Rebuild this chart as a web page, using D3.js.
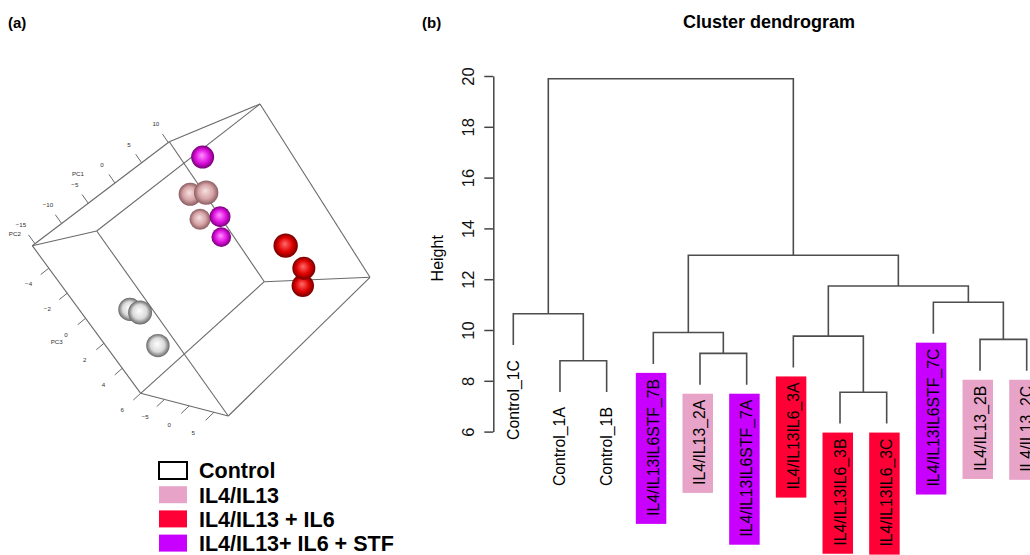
<!DOCTYPE html>
<html>
<head>
<meta charset="utf-8">
<script src="https://cdn.jsdelivr.net/npm/d3@7"></script>
<style>
body { margin: 0; background: #fff; }
text { font-family: "Liberation Sans", Arial, sans-serif; }
</style>
</head>
<body>
<svg id="fig" width="1030" height="555"></svg>
<script>
// treatment groups
var groups = ["Control", "IL4/IL13", "IL4/IL13 + IL6", "IL4/IL13+ IL6 + STF"];
var groupFill = ["#ffffff", "#e8a4c8", "#ff0036", "#c800ff"];

// PCA scores (panel a)
var pcGroup = [0, 0, 0, 1, 1, 1, 2, 2, 2, 3, 3, 3];
var pc1 = [-14.7, -14.7, -14.7, 1.2, 0.9, 3.7, 5.8, 8.6, 8.1, 5.4, 6.3, 7.2];
var pc2 = [0.7, 2.6, 1.2, 0.3, 3.8, -4.7, 3.8, 0.3, -1.1, 0.3, -4.7, -8.0];
var pc3 = [-0.5, -0.3, 2.0, -3.4, -3.3, -1.1, 2.1, 4.6, 5.7, -4.7, -0.4, 1.3];
var pc1Ticks = [-15, -10, -5, 0, 5, 10];
var pc2Ticks = [-5, 0, 5];
var pc3Ticks = [-4, -2, 0, 2, 4, 6];

// hierarchical clustering (panel b), leaves in plotted order
var leafLabels = ["Control_1C", "Control_1A", "Control_1B", "IL4/IL13IL6STF_7B", "IL4/IL13_2A",
  "IL4/IL13IL6STF_7A", "IL4/IL13IL6_3A", "IL4/IL13IL6_3B", "IL4/IL13IL6_3C", "IL4/IL13IL6STF_7C",
  "IL4/IL13_2B", "IL4/IL13_2C"];
var leafGroup = [0, 0, 0, 3, 1, 3, 2, 2, 2, 3, 1, 1];
// merge steps like hclust: negative = leaf, positive = earlier merge
var mergeA = [-2, -1, -5, -4, -8, -7, -11, -10, 6, 4, 2];
var mergeB = [-3, 1, -6, 3, -9, 5, -12, 7, 8, 9, 10];
var mergeHeight = [8.79, 10.64, 9.08, 9.90, 7.55, 9.76, 9.63, 11.09, 11.73, 12.94, 19.89];
var heightTicks = [6, 8, 10, 12, 14, 16, 18, 20];

var svg = d3.select("#fig");
svg.append("rect").attr("width", 1030).attr("height", 555).attr("fill", "#fff");

// ---------- panel a : 3d scatter ----------
var sx = d3.scaleLinear().domain([-15.5, 10.2]).range([0, 1]);
var sy = d3.scaleLinear().domain([-9.8, 7.9]).range([0, 1]);
var sz = d3.scaleLinear().domain([-5.8, 6.0]).range([0, 1]);
var rad = d3.scaleLinear().domain(sy.domain()).range([9.5, 13]);

// screen position of the box corners (a,b,c)
var corner = {
  "000": [32.3, 245.7], "100": [169.3, 141.7], "010": [96.7, 231.0], "110": [260.0, 104.0],
  "001": [140.7, 393.3], "101": [264.3, 281.7], "011": [228.3, 416.0], "111": [370.0, 277.3]
};

function lerp(p, q, t){ return [p[0] + (q[0] - p[0]) * t, p[1] + (q[1] - p[1]) * t]; }

function proj(a, b, c){
  var p00 = lerp(corner["000"], corner["100"], a);
  var p10 = lerp(corner["010"], corner["110"], a);
  var p01 = lerp(corner["001"], corner["101"], a);
  var p11 = lerp(corner["011"], corner["111"], a);
  return lerp(lerp(p00, p10, b), lerp(p01, p11, b), c);
}

var defs = svg.append("defs");
var shade = [
  ["#ffffff", "#dadada", "#666666"],
  ["#f6e2e2", "#d6a3a6", "#8a5c60"],
  ["#ff6a6a", "#e00000", "#740000"],
  ["#ff90ff", "#e010e0", "#760076"]
];
shade.forEach(function(s, i){
  var g = defs.append("radialGradient").attr("id", "ball" + i)
    .attr("cx", "50%").attr("cy", "50%").attr("r", "50%")
    .attr("fx", "46%").attr("fy", "42%");
  g.append("stop").attr("offset", "0%").attr("stop-color", s[0]);
  g.append("stop").attr("offset", "60%").attr("stop-color", s[1]);
  g.append("stop").attr("offset", "100%").attr("stop-color", s[2]);
});

var pa = svg.append("g");

var edges = [];
["000", "010", "001", "011"].forEach(function(k){ edges.push([k, "1" + k.slice(1)]); });
["000", "100", "001", "101"].forEach(function(k){ edges.push([k, k[0] + "1" + k[2]]); });
["000", "100", "010", "110"].forEach(function(k){ edges.push([k, k.slice(0, 2) + "1"]); });

pa.selectAll("line.edge").data(edges).enter().append("line")
  .attr("class", "edge")
  .attr("x1", function(d){ return corner[d[0]][0]; })
  .attr("y1", function(d){ return corner[d[0]][1]; })
  .attr("x2", function(d){ return corner[d[1]][0]; })
  .attr("y2", function(d){ return corner[d[1]][1]; })
  .attr("stroke", "#6a6a6a").attr("stroke-width", 1.1);

function tickSet(values, pos, tickEnd, labelPos){
  var g = pa.append("g");
  values.forEach(function(v){
    var p0 = proj.apply(null, pos(v)), p1 = proj.apply(null, tickEnd(v)), pl = proj.apply(null, labelPos(v));
    g.append("line").attr("x1", p0[0]).attr("y1", p0[1]).attr("x2", p1[0]).attr("y2", p1[1])
      .attr("stroke", "#6a6a6a").attr("stroke-width", 1);
    g.append("text").attr("x", pl[0]).attr("y", pl[1]).attr("dy", "0.35em")
      .attr("text-anchor", "middle").attr("font-size", 6.2).attr("fill", "#333")
      .text(String(v).replace("-", "\u2212"));
  });
}
tickSet(pc1Ticks, function(v){ return [sx(v), 0, 0]; }, function(v){ return [sx(v), 0, -0.06]; },
  function(v){ return [sx(v), 0, -0.13]; });
tickSet(pc3Ticks, function(v){ return [0, 0, sz(v)]; }, function(v){ return [-0.06, 0, sz(v)]; },
  function(v){ return [-0.15, 0, sz(v)]; });
tickSet(pc2Ticks, function(v){ return [0, sy(v), 1]; }, function(v){ return [-0.06, sy(v), 1]; },
  function(v){ return [-0.15, sy(v), 1]; });

[["PC1", [0.46, 0, -0.17]], ["PC2", [-0.04, 0, -0.11]], ["PC3", [-0.22, 0, 0.49]]].forEach(function(d){
  var p = proj.apply(null, d[1]);
  pa.append("text").attr("x", p[0]).attr("y", p[1]).attr("dy", "0.35em")
    .attr("text-anchor", "middle").attr("font-size", 6.2).attr("fill", "#333").text(d[0]);
});

var pts = pc1.map(function(v, i){
  var p = proj(sx(v), sy(pc2[i]), sz(pc3[i]));
  return { x: p[0], y: p[1], r: rad(pc2[i]), depth: pc2[i], g: pcGroup[i] };
}).sort(function(a, b){ return a.depth - b.depth; });

pa.selectAll("circle.ball").data(pts).enter().append("circle")
  .attr("class", "ball")
  .attr("cx", function(d){ return d.x; })
  .attr("cy", function(d){ return d.y; })
  .attr("r", function(d){ return d.r; })
  .attr("fill", function(d){ return "url(#ball" + d.g + ")"; });

// legend
var row = d3.scaleBand().domain(groups).range([462, 462 + 24.2 * 4]);
var lg = svg.append("g").selectAll("g").data(groups).enter().append("g")
  .attr("transform", function(d){ return "translate(159," + row(d) + ")"; });
lg.append("rect").attr("width", 28).attr("height", 17)
  .attr("fill", function(d, i){ return groupFill[i]; })
  .attr("stroke", function(d, i){ return i === 0 ? "#000" : "none"; })
  .attr("stroke-width", 2);
lg.append("text").attr("x", 40).attr("y", 16.3)
  .attr("font-size", 21.5).attr("font-weight", "bold").text(function(d){ return d; });

svg.append("text").attr("x", 8).attr("y", 28).attr("font-size", 15).attr("font-weight", "bold").text("(a)");

// ---------- panel b : dendrogram ----------
svg.append("text").attr("x", 422).attr("y", 28).attr("font-size", 15).attr("font-weight", "bold").text("(b)");
svg.append("text").attr("x", 769).attr("y", 27.5).attr("text-anchor", "middle")
  .attr("font-size", 18).attr("font-weight", "bold").text("Cluster dendrogram");

var x = d3.scaleLinear().domain([1, leafLabels.length]).range([513.3, 1026.7]);
var y = d3.scaleLinear().domain([6, 20]).range([431.6, 76]);
var hang = 0.1 * (d3.max(mergeHeight) - d3.min(mergeHeight));

var yAxis = svg.append("g").attr("transform", "translate(493.3,0)")
  .call(d3.axisLeft(y).tickValues(heightTicks).tickSize(9).tickSizeOuter(0));
yAxis.select(".domain").attr("stroke", "#444").attr("stroke-width", 1.5);
yAxis.selectAll(".tick line").attr("stroke", "#444").attr("stroke-width", 1.5);
yAxis.selectAll(".tick text")
  .attr("transform", "rotate(-90)").attr("x", 0).attr("y", -19).attr("dy", null)
  .attr("text-anchor", "middle").attr("font-size", 16.5).attr("fill", "#111")
  .attr("font-family", "Liberation Sans, Arial, sans-serif");

svg.append("text").attr("transform", "translate(443,258.3) rotate(-90)")
  .attr("text-anchor", "middle").attr("font-size", 16).text("Height");

var nodeX = [];
var leafTop = [];
function cx(id){ return id < 0 ? x(-id) : nodeX[id - 1]; }
function cy(id, h){
  if (id < 0) { leafTop[-id - 1] = y(h - hang); return y(h - hang); }
  return y(mergeHeight[id - 1]);
}
var links = mergeA.map(function(a, i){
  var b = mergeB[i], h = mergeHeight[i];
  nodeX[i] = (cx(a) + cx(b)) / 2;
  return "M" + cx(a) + "," + cy(a, h) + "V" + y(h) + "H" + cx(b) + "V" + cy(b, h);
});
svg.append("g").selectAll("path").data(links).enter().append("path")
  .attr("d", function(d){ return d; })
  .attr("fill", "none").attr("stroke", "#4d4d4d").attr("stroke-width", 1.6);

var leaf = svg.append("g").selectAll("g").data(leafLabels).enter().append("g");
leaf.each(function(d, i){
  var g = d3.select(this);
  var lx = x(i + 1), ly = leafTop[i];
  var box = g.append("rect");
  var t = g.append("text")
    .attr("transform", "translate(" + (lx + 5.5) + "," + (ly + 15) + ") rotate(-90)")
    .attr("text-anchor", "end").attr("font-size", 15.8).attr("fill", "#000").text(d);
  if (leafGroup[i] > 0) {
    var len = t.node().getComputedTextLength();
    box.attr("x", lx - 17.5).attr("y", ly + 9).attr("width", 30.5).attr("height", len + 14)
      .attr("fill", groupFill[leafGroup[i]]);
  } else {
    box.remove();
  }
});
</script>
</body>
</html>
